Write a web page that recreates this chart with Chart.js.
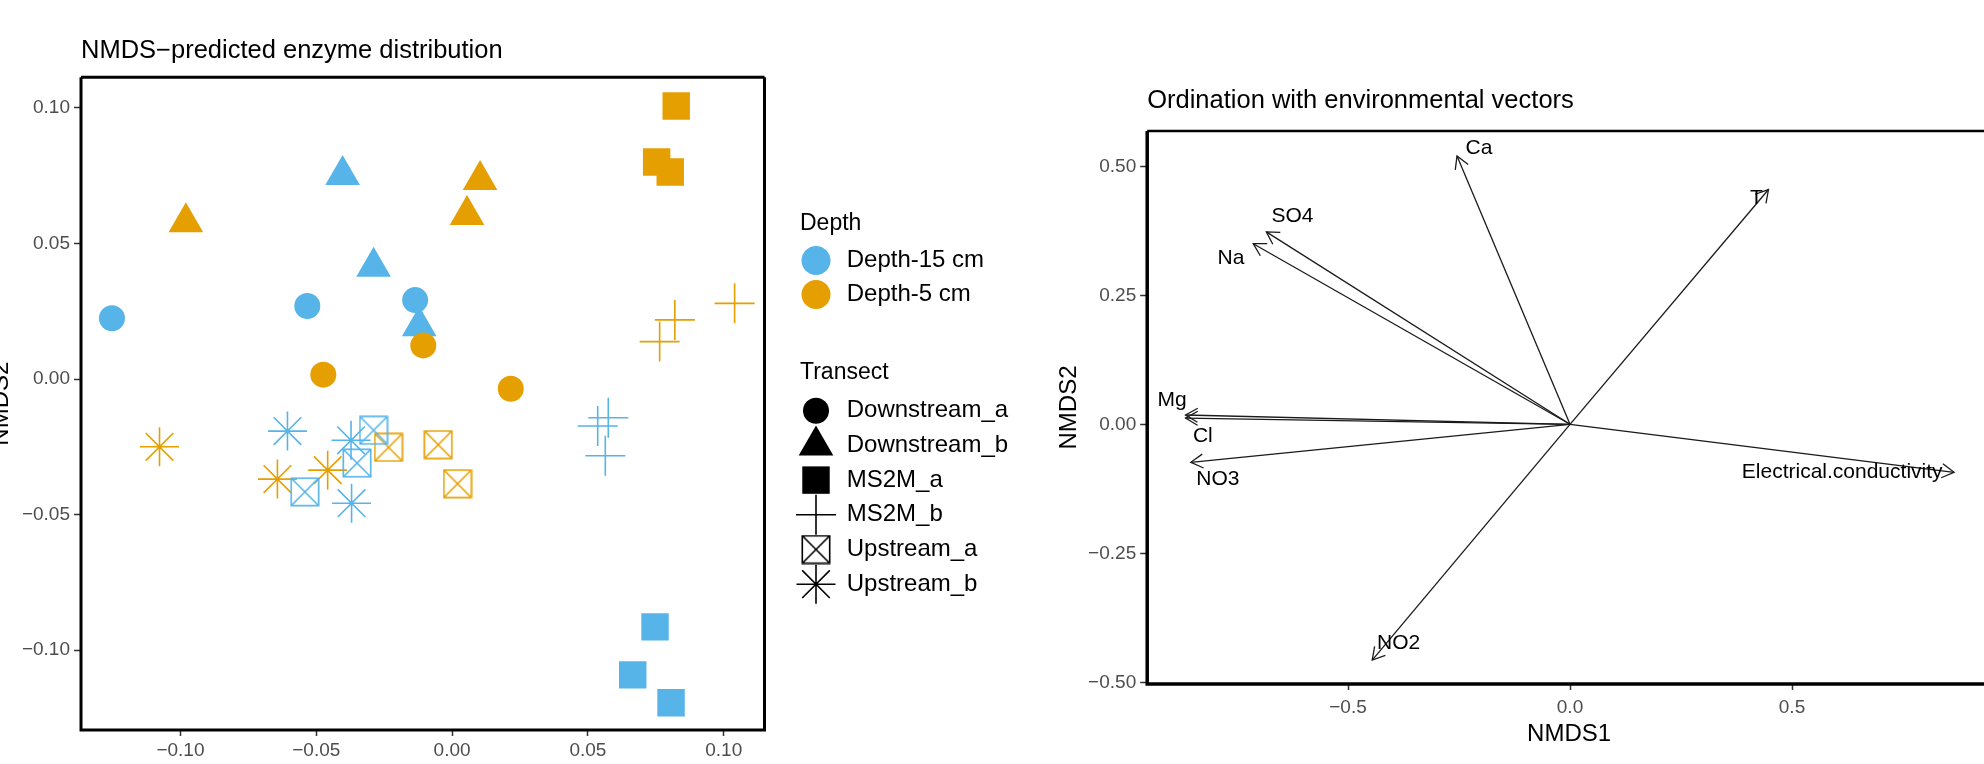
<!DOCTYPE html>
<html>
<head>
<meta charset="utf-8">
<script src="https://cdn.jsdelivr.net/npm/chart.js@4.4.1/dist/chart.umd.min.js"></script>
<style>
  html, body { margin: 0; padding: 0; background: #fff; width: 1984px; height: 764px; overflow: hidden; position: relative; }
  #left { position: absolute; left: 0; top: 0; }
  #right { position: absolute; left: 1000px; top: 0; }
</style>
</head>
<body>
<canvas id="left" width="1100" height="764"></canvas>
<canvas id="right" width="1000" height="764"></canvas>
<script>
// ---- NMDS sample scores (left panel) ----
const transectNames = ["Downstream_a", "Downstream_b", "MS2M_a", "MS2M_b", "Upstream_a", "Upstream_b"];
const depthNames = ["Depth-15 cm", "Depth-5 cm"];
const depthColors = ["#56B4E9", "#E69F00"];

const sampleTransect = [
  "Downstream_a", "Downstream_a", "Downstream_a", "Downstream_a", "Downstream_a", "Downstream_a",
  "Downstream_b", "Downstream_b", "Downstream_b", "Downstream_b", "Downstream_b", "Downstream_b",
  "MS2M_a", "MS2M_a", "MS2M_a", "MS2M_a", "MS2M_a", "MS2M_a",
  "MS2M_b", "MS2M_b", "MS2M_b", "MS2M_b", "MS2M_b", "MS2M_b",
  "Upstream_a", "Upstream_a", "Upstream_a", "Upstream_a", "Upstream_a", "Upstream_a",
  "Upstream_b", "Upstream_b", "Upstream_b", "Upstream_b", "Upstream_b", "Upstream_b"
];
const sampleDepth = [
  "Depth-15 cm", "Depth-15 cm", "Depth-15 cm", "Depth-5 cm", "Depth-5 cm", "Depth-5 cm",
  "Depth-15 cm", "Depth-15 cm", "Depth-15 cm", "Depth-5 cm", "Depth-5 cm", "Depth-5 cm",
  "Depth-15 cm", "Depth-15 cm", "Depth-15 cm", "Depth-5 cm", "Depth-5 cm", "Depth-5 cm",
  "Depth-15 cm", "Depth-15 cm", "Depth-15 cm", "Depth-5 cm", "Depth-5 cm", "Depth-5 cm",
  "Depth-15 cm", "Depth-15 cm", "Depth-15 cm", "Depth-5 cm", "Depth-5 cm", "Depth-5 cm",
  "Depth-15 cm", "Depth-15 cm", "Depth-15 cm", "Depth-5 cm", "Depth-5 cm", "Depth-5 cm"
];
const sampleNMDS1 = [
  -0.1252, -0.0533, -0.0136, -0.0106, -0.0474, 0.0216,
  -0.0403, -0.0289, -0.0121, -0.0980, 0.0103, 0.0055,
  0.0747, 0.0665, 0.0806, 0.0825, 0.0753, 0.0803,
  0.0575, 0.0536, 0.0564, 0.1040, 0.0820, 0.0764,
  -0.0289, -0.0350, -0.0542, -0.0234, -0.0051, 0.0020,
  -0.0606, -0.0372, -0.0370, -0.1077, -0.0643, -0.0458
];
const sampleNMDS2 = [
  0.0224, 0.0269, 0.0291, 0.0124, 0.0016, -0.0036,
  0.0752, 0.0414, 0.0195, 0.0578, 0.0734, 0.0605,
  -0.0914, -0.1091, -0.1194, 0.1007, 0.0800, 0.0763,
  -0.0143, -0.0173, -0.0283, 0.0279, 0.0218, 0.0138,
  -0.0189, -0.0310, -0.0416, -0.0252, -0.0242, -0.0386,
  -0.0192, -0.0226, -0.0458, -0.0250, -0.0369, -0.0336
];
const leftXTicks = [-0.10, -0.05, 0.00, 0.05, 0.10];
const leftYTicks = [-0.10, -0.05, 0.00, 0.05, 0.10];

// ---- environmental vectors (right panel) ----
const envNames = ["Ca", "T", "SO4", "Na", "Mg", "Cl", "NO3", "NO2", "Electrical.conductivity"];
const envNMDS1 = [-0.2545, 0.447, -0.684, -0.7135, -0.866, -0.866, -0.854, -0.4455, 0.865];
const envNMDS2 = [0.520, 0.455, 0.373, 0.350, 0.018, 0.012, -0.0736, -0.457, -0.093];
const envLabelNMDS1 = [-0.205, 0.420, -0.625, -0.7635, -0.896, -0.827, -0.793, -0.386, 0.613];
const envLabelNMDS2 = [0.5345, 0.438, 0.404, 0.3217, 0.047, -0.0227, -0.106, -0.4244, -0.0924];
const rightXTicks = [-0.5, 0.0, 0.5];
const rightYTicks = [-0.50, -0.25, 0.00, 0.25, 0.50];

const FONT = "'Liberation Sans', Arial, Helvetica, sans-serif";
const TICK_COL = "#4D4D4D";

function fmt(v, d) {
  const s = Math.abs(v).toFixed(d);
  return v < -1e-9 ? "\u2212" + s : s;
}

// pch 7 style: square with an x inside
function boxCross(color) {
  const c = document.createElement("canvas");
  c.width = 30; c.height = 30;
  const g = c.getContext("2d");
  g.strokeStyle = color;
  g.lineWidth = 1.6;
  g.strokeRect(1.3, 1.3, 27.4, 27.4);
  g.beginPath();
  g.moveTo(1.3, 1.3); g.lineTo(28.7, 28.7);
  g.moveTo(28.7, 1.3); g.lineTo(1.3, 28.7);
  g.stroke();
  return c;
}

const shapeOf = {
  Downstream_a: { pointStyle: "circle", radius: 13, line: false },
  Downstream_b: { pointStyle: "triangle", radius: 20, line: false },
  MS2M_a: { pointStyle: "rect", radius: 19.4, line: false },
  MS2M_b: { pointStyle: "cross", radius: 20, line: true },
  Upstream_a: { pointStyle: "boxcross", radius: 14, line: true },
  Upstream_b: { pointStyle: "star", radius: 19.5, line: true }
};
function styleFor(t, color) {
  const s = shapeOf[t];
  return s.pointStyle === "boxcross" ? boxCross(color) : s.pointStyle;
}

const leftDatasets = [];
transectNames.forEach((t) => {
  depthNames.forEach((d, di) => {
    const pts = [];
    sampleTransect.forEach((st, i) => {
      if (st === t && sampleDepth[i] === d) pts.push({ x: sampleNMDS1[i], y: sampleNMDS2[i] });
    });
    const s = shapeOf[t];
    leftDatasets.push({
      label: t + " / " + d,
      data: pts,
      pointStyle: styleFor(t, depthColors[di]),
      pointRadius: s.radius,
      pointHoverRadius: s.radius,
      backgroundColor: depthColors[di],
      borderColor: depthColors[di],
      borderWidth: s.line ? 1.6 : 0,
      showLine: false
    });
  });
});

const panelBox = {
  id: "panelBox",
  afterDatasetsDraw(chart, args, opts) {
    const { ctx, chartArea: a } = chart;
    ctx.save();
    ctx.strokeStyle = "#000";
    ctx.lineWidth = opts.top;
    ctx.beginPath(); ctx.moveTo(a.left, a.top); ctx.lineTo(a.right, a.top); ctx.stroke();
    ctx.lineWidth = opts.side;
    ctx.beginPath();
    ctx.moveTo(a.left, a.top); ctx.lineTo(a.left, a.bottom); ctx.lineTo(a.right, a.bottom);
    if (opts.right) ctx.lineTo(a.right, a.top);
    ctx.stroke();
    ctx.restore();
  }
};

const ggLegend = {
  id: "ggLegend",
  afterDraw(chart) {
    const ctx = chart.ctx;
    const r = chart.chartArea.right;
    const symX = r + 51.5, txtX = r + 82.2, ttlX = r + 35.5;
    ctx.save();
    ctx.fillStyle = "#000";
    ctx.textAlign = "left";
    ctx.textBaseline = "alphabetic";
    ctx.font = "23px " + FONT;
    ctx.fillText("Depth", ttlX, 230);
    ctx.fillText("Transect", ttlX, 379);
    ctx.font = "24px " + FONT;
    ctx.textBaseline = "middle";
    depthNames.forEach((d, i) => {
      const y = 260.5 + i * 34;
      ctx.fillStyle = depthColors[i];
      Chart.helpers.drawPoint(ctx, { pointStyle: "circle", radius: 14.5, borderWidth: 0, rotation: 0 }, symX, y);
      ctx.fillStyle = "#000";
      ctx.fillText(d, txtX, y);
    });
    transectNames.forEach((t, i) => {
      const y = 410.7 + i * 34.7;
      const s = shapeOf[t];
      ctx.fillStyle = "#000";
      ctx.strokeStyle = "#000";
      ctx.lineWidth = 1.6;
      Chart.helpers.drawPoint(ctx, {
        pointStyle: styleFor(t, "#000"),
        radius: s.radius,
        borderWidth: s.line ? 1.6 : 0,
        rotation: 0
      }, symX, y);
      ctx.fillStyle = "#000";
      ctx.fillText(t, txtX, y);
    });
    ctx.restore();
  }
};

const tickFont = { family: FONT, size: 19 };

new Chart(document.getElementById("left"), {
  type: "scatter",
  data: { datasets: leftDatasets },
  options: {
    responsive: false,
    animation: false,
    events: [],
    layout: { padding: { left: 0, right: 335.5, top: 0, bottom: 0 } },
    plugins: {
      legend: { display: false },
      tooltip: { enabled: false },
      title: {
        display: true,
        text: "NMDS\u2212predicted enzyme distribution",
        align: "start",
        fullSize: false,
        color: "#000",
        font: { family: FONT, size: 25.5, weight: "normal" },
        padding: { top: 35.2, bottom: 11.5 }
      },
      panelBox: { top: 3, side: 3, right: true }
    },
    scales: {
      x: {
        type: "linear",
        min: -0.1366,
        max: 0.1150,
        afterBuildTicks: (s) => { s.ticks = leftXTicks.map((v) => ({ value: v })); },
        afterFit: (s) => { s.height = 34; },
        ticks: { callback: (v) => fmt(v, 2), color: TICK_COL, font: tickFont, padding: 3, maxRotation: 0, autoSkip: false },
        grid: { drawOnChartArea: false, tickLength: 6, tickColor: "#333", tickWidth: 1.5 },
        border: { display: false }
      },
      y: {
        type: "linear",
        min: -0.12942,
        max: 0.11125,
        afterBuildTicks: (s) => { s.ticks = leftYTicks.map((v) => ({ value: v })); },
        afterFit: (s) => { s.width = 81; },
        ticks: { callback: (v) => fmt(v, 2), color: TICK_COL, font: tickFont, padding: 4, autoSkip: false },
        grid: { drawOnChartArea: false, tickLength: 7, tickColor: "#333", tickWidth: 1.5 },
        border: { display: false },
        title: {
          display: true,
          text: "NMDS2",
          color: "#000",
          font: { family: FONT, size: 24 },
          padding: { top: -13, bottom: 0 }
        }
      }
    }
  },
  plugins: [panelBox, ggLegend]
});

// ---- right panel ----
const envDatasets = envNames.map((n, i) => ({
  label: n,
  data: [{ x: 0, y: 0 }, { x: envNMDS1[i], y: envNMDS2[i] }],
  showLine: true,
  borderColor: "#1a1a1a",
  borderWidth: 1.3,
  pointRadius: 0,
  pointHoverRadius: 0
}));

const arrowHeads = {
  id: "arrowHeads",
  afterDatasetsDraw(chart) {
    const { ctx, scales: { x, y } } = chart;
    const len = 14, ang = Math.PI / 6;
    ctx.save();
    ctx.strokeStyle = "#1a1a1a";
    ctx.lineWidth = 1.3;
    envNames.forEach((n, i) => {
      const x0 = x.getPixelForValue(0), y0 = y.getPixelForValue(0);
      const x1 = x.getPixelForValue(envNMDS1[i]), y1 = y.getPixelForValue(envNMDS2[i]);
      const th = Math.atan2(y1 - y0, x1 - x0);
      ctx.beginPath();
      ctx.moveTo(x1 - len * Math.cos(th - ang), y1 - len * Math.sin(th - ang));
      ctx.lineTo(x1, y1);
      ctx.lineTo(x1 - len * Math.cos(th + ang), y1 - len * Math.sin(th + ang));
      ctx.stroke();
    });
    ctx.font = "21px " + FONT;
    ctx.fillStyle = "#000";
    ctx.textAlign = "center";
    ctx.textBaseline = "middle";
    envNames.forEach((n, i) => {
      ctx.fillText(n, x.getPixelForValue(envLabelNMDS1[i]), y.getPixelForValue(envLabelNMDS2[i]));
    });
    ctx.restore();
  }
};

new Chart(document.getElementById("right"), {
  type: "scatter",
  data: { datasets: envDatasets },
  options: {
    responsive: false,
    animation: false,
    events: [],
    layout: { padding: { left: 0, right: 9, top: 0, bottom: 0 } },
    plugins: {
      legend: { display: false },
      tooltip: { enabled: false },
      title: {
        display: true,
        text: "Ordination with environmental vectors",
        align: "start",
        fullSize: false,
        color: "#000",
        font: { family: FONT, size: 25.5, weight: "normal" },
        padding: { top: 85.7, bottom: 14.7 }
      },
      panelBox: { top: 2.5, side: 3.5, right: false }
    },
    scales: {
      x: {
        type: "linear",
        min: -0.9523,
        max: 0.9482,
        afterBuildTicks: (s) => { s.ticks = rightXTicks.map((v) => ({ value: v })); },
        afterFit: (s) => { s.height = 80; },
        ticks: { callback: (v) => fmt(v, 1), color: TICK_COL, font: tickFont, padding: 6.4, maxRotation: 0, autoSkip: false },
        grid: { drawOnChartArea: false, tickLength: 6, tickColor: "#333", tickWidth: 1.5 },
        border: { display: false },
        title: {
          display: true,
          text: "NMDS1",
          color: "#000",
          font: { family: FONT, size: 24 },
          padding: { top: 0, bottom: 15.6 }
        }
      },
      y: {
        type: "linear",
        min: -0.5033,
        max: 0.5684,
        afterBuildTicks: (s) => { s.ticks = rightYTicks.map((v) => ({ value: v })); },
        afterFit: (s) => { s.width = 147.2; },
        ticks: { callback: (v) => fmt(v, 2), color: TICK_COL, font: tickFont, padding: 4, autoSkip: false },
        grid: { drawOnChartArea: false, tickLength: 7, tickColor: "#333", tickWidth: 1.5 },
        border: { display: false },
        title: {
          display: true,
          text: "NMDS2",
          color: "#000",
          font: { family: FONT, size: 24 },
          padding: { top: 54.6, bottom: 0 }
        }
      }
    }
  },
  plugins: [panelBox, arrowHeads]
});
</script>
</body>
</html>
